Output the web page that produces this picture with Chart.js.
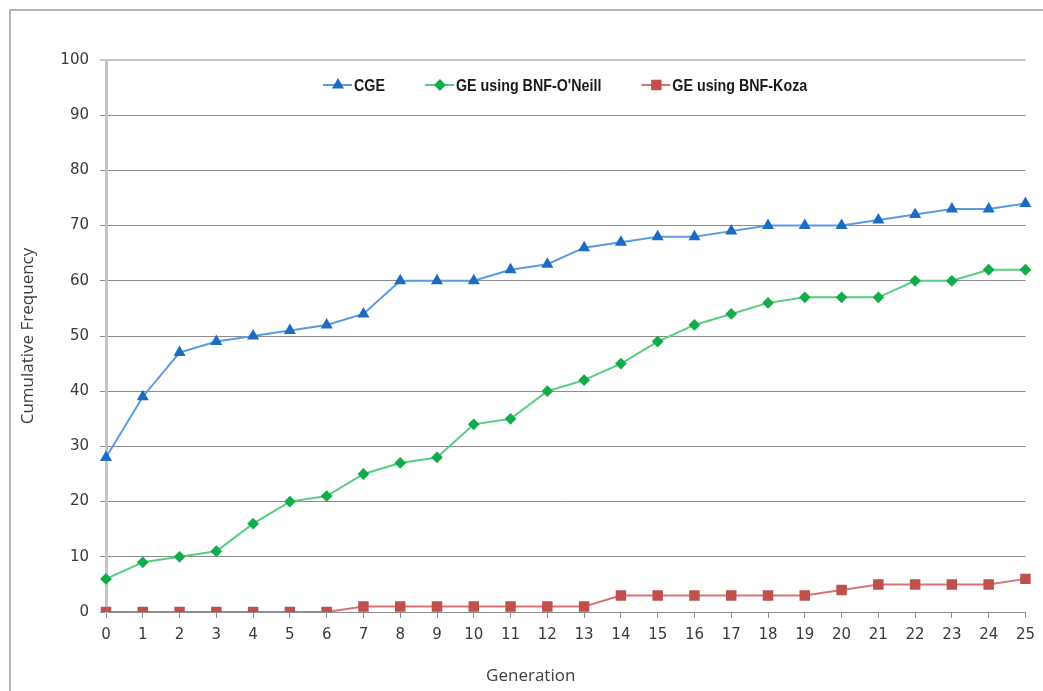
<!DOCTYPE html>
<html>
<head>
<meta charset="utf-8">
<script src="https://cdn.jsdelivr.net/npm/chart.js@4"></script>
<style>
  body { margin: 0; background: #fff; overflow: hidden; }
  #frame { position: absolute; left: 9px; top: 9px; width: 1100px; height: 750px;
           border-left: 2px solid #b4b4b4; border-top: 2px solid #b4b4b4; }
  #wrap { position: absolute; left: 0; top: 0; width: 1043px; height: 691px; }
</style>
</head>
<body>
<div id="frame"></div>
<div id="wrap"><canvas id="chart"></canvas></div>
<script>
// generations 0..25
const generations = ["0","1","2","3","4","5","6","7","8","9","10","11","12","13","14","15","16","17","18","19","20","21","22","23","24","25"];

const cge = [28, 39, 47, 49, 50, 51, 52, 54, 60, 60, 60, 62, 63, 66, 67, 68, 68, 69, 70, 70, 70, 71, 72, 73, 73, 74];
const geOneill = [6, 9, 10, 11, 16, 20, 21, 25, 27, 28, 34, 35, 40, 42, 45, 49, 52, 54, 56, 57, 57, 57, 60, 60, 62, 62];
const geKoza = [0, 0, 0, 0, 0, 0, 0, 1, 1, 1, 1, 1, 1, 1, 3, 3, 3, 3, 3, 3, 4, 5, 5, 5, 5, 6];

const seriesNames = ["CGE", "GE using BNF-O'Neill", "GE using BNF-Koza"];
const yTicks = [0, 10, 20, 30, 40, 50, 60, 70, 80, 90, 100];

const tickFont = { family: "'DejaVu Sans', Verdana, sans-serif", size: 15 };
const titleFont = "17px 'Open Sans', sans-serif";

// legend drawn inside the plot area, like the original
const innerLegend = {
  id: "innerLegend",
  afterDraw(chart) {
    const ctx = chart.ctx;
    const squeeze = 0.84; // narrow the text, the original uses a condensed face
    let x = 323;
    const y = 85;
    ctx.save();
    ctx.font = "bold 17px 'Liberation Sans', sans-serif";
    ctx.textBaseline = "middle";
    chart.data.datasets.forEach((ds) => {
      ctx.strokeStyle = ds.borderColor;
      ctx.lineWidth = 2;
      ctx.beginPath();
      ctx.moveTo(x, y);
      ctx.lineTo(x + 29, y);
      ctx.stroke();
      ctx.fillStyle = ds.pointBackgroundColor;
      ctx.strokeStyle = ds.pointBorderColor;
      Chart.helpers.drawPoint(ctx, { pointStyle: ds.pointStyle, radius: ds.pointRadius, rotation: 0, borderWidth: 1 }, x + 15, y);
      ctx.fillStyle = "#1a1a1a";
      ctx.save();
      ctx.translate(x + 31, y + 1);
      ctx.scale(squeeze, 1);
      ctx.fillText(ds.label, 0, 0);
      ctx.restore();
      x += 31 + ctx.measureText(ds.label).width * squeeze + 40;
    });
    // x axis title
    const a = chart.chartArea;
    ctx.font = titleFont;
    ctx.fillStyle = "#404040";
    ctx.textAlign = "center";
    ctx.fillText("Generation", (a.left + a.right) / 2 - 35, 676);
    ctx.restore();
  }
};

new Chart(document.getElementById("chart"), {
  type: "line",
  data: {
    labels: generations,
    datasets: [
      {
        label: seriesNames[0],
        data: cge,
        borderColor: "#5a9be0",
        borderWidth: 2,
        pointStyle: "triangle",
        pointRadius: 5,
        pointBackgroundColor: "#1d6cc2",
        pointBorderColor: "#1d6cc2",
        tension: 0
      },
      {
        label: seriesNames[1],
        data: geOneill,
        borderColor: "#55cf7e",
        borderWidth: 2,
        pointStyle: "rectRot",
        pointRadius: 4.5,
        pointBackgroundColor: "#12ad4a",
        pointBorderColor: "#12ad4a",
        tension: 0
      },
      {
        label: seriesNames[2],
        data: geKoza,
        borderColor: "#dc7373",
        borderWidth: 2,
        pointStyle: "rect",
        pointRadius: 6,
        pointBackgroundColor: "#c0504d",
        pointBorderColor: "#c0504d",
        tension: 0
      }
    ]
  },
  options: {
    responsive: true,
    maintainAspectRatio: false,
    animation: false,
    layout: { padding: { left: 10, right: 14, top: 60, bottom: 0 } },
    plugins: { legend: { display: false }, tooltip: { enabled: false } },
    scales: {
      x: {
        offset: false,
        afterFit: (s) => { s.height = 79; },
        grid: { drawOnChartArea: false, drawTicks: true, tickLength: 6, color: "#8c8c8c" },
        border: { color: "#8c8c8c", width: 1 },
        ticks: { font: tickFont, color: "#3a3a3a", padding: 8, maxRotation: 0, autoSkip: false }
      },
      y: {
        min: 0,
        max: 100,
        afterFit: (s) => { s.width = 96; },
        afterBuildTicks: (s) => { s.ticks = yTicks.map(v => ({ value: v })); },
        grid: {
          color: (c) => c.tick && c.tick.value === 100 ? "#c4c4c4" : "#8c8c8c",
          lineWidth: (c) => c.tick && c.tick.value === 100 ? 2 : 1,
          tickLength: 6
        },
        border: { color: "#c4c4c4", width: 3 },
        ticks: { font: tickFont, color: "#3a3a3a", padding: 11 },
        title: {
          display: true,
          text: "Cumulative Frequency",
          font: { family: "'Open Sans', sans-serif", size: 17 },
          color: "#404040",
          padding: { top: 8, bottom: 0 }
        }
      }
    }
  },
  plugins: [innerLegend]
});
</script>
</body>
</html>
